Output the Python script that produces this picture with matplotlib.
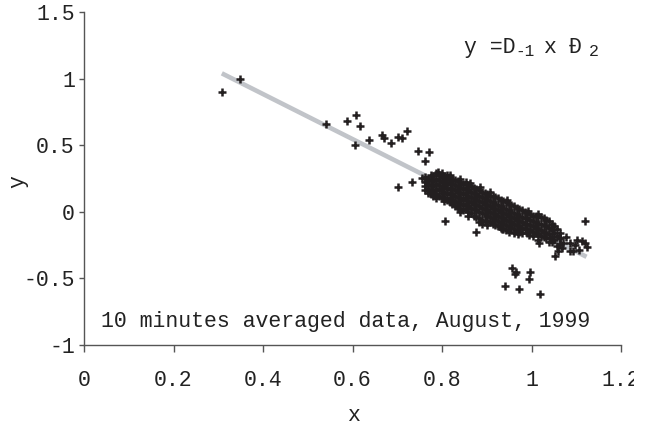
import matplotlib
matplotlib.use("Agg")
import matplotlib.pyplot as plt
import numpy as np
from matplotlib.transforms import Bbox

# scattered points away from the main cloud
outlier_x = [0.308, 0.349, 0.541, 0.587, 0.608, 0.617, 0.606, 0.637, 0.666, 0.670,
             0.685, 0.701, 0.711, 0.722, 0.746, 0.772, 0.763, 0.701, 0.734, 0.756,
             0.768, 0.807, 0.877, 1.120,
             0.956, 0.965, 0.963, 0.997, 0.994, 0.941, 0.971, 1.019]
outlier_y = [0.900, 0.995, 0.660, 0.685, 0.730, 0.645, 0.505, 0.538, 0.578, 0.553,
             0.515, 0.565, 0.553, 0.608, 0.460, 0.452, 0.383, 0.188, 0.220, 0.255,
             0.240, -0.068, -0.152, -0.070,
             -0.420, -0.450, -0.470, -0.450, -0.505, -0.560, -0.580, -0.615]

# stray points along the rim of the cloud
edge_x = [0.790, 0.818, 0.840, 0.863, 0.885, 0.907, 0.945, 0.992, 1.015,
          0.840, 0.858, 0.889, 0.933, 0.970, 0.994, 1.017, 1.041]
edge_y = [0.300, 0.275, 0.245, 0.215, 0.185, 0.150, 0.090, 0.005, -0.020,
          -0.005, -0.030, -0.090, -0.130, -0.170, -0.175, -0.235, -0.200]

# right hand tail of the cloud
tail_x = [1.052, 1.060, 1.071, 1.086, 1.086, 1.093, 1.102, 1.107, 1.120, 1.123, 1.040, 1.064,
          1.069, 1.078, 1.097, 1.113]
tail_y = [-0.335, -0.298, -0.235, -0.235, -0.298, -0.298, -0.215, -0.285, -0.235, -0.265, -0.230, -0.200,
          -0.270, -0.190, -0.250, -0.220]

# dense cloud, read column by column
cloud_x = [0.762, 0.768, 0.775, 0.781, 0.787, 0.793, 0.799, 0.805, 0.811, 0.817,
           0.823, 0.829, 0.835, 0.841, 0.847, 0.853, 0.859, 0.865, 0.871, 0.877,
           0.883, 0.889, 0.895, 0.901, 0.907, 0.913, 0.919, 0.925, 0.931, 0.937,
           0.943, 0.949, 0.955, 0.961, 0.967, 0.973, 0.979, 0.985, 0.991, 0.997,
           1.003, 1.009, 1.015, 1.021, 1.027, 1.033, 1.039, 1.045, 1.051, 1.057, 1.063]
cloud_y = [
    [0.26, 0.22, 0.19, 0.16],
    [0.25, 0.21, 0.17, 0.14],
    [0.28, 0.24, 0.20, 0.16, 0.13],
    [0.27, 0.23, 0.19, 0.15, 0.12],
    [0.29, 0.25, 0.21, 0.17, 0.13, 0.10],
    [0.28, 0.24, 0.20, 0.16, 0.12],
    [0.29, 0.26, 0.22, 0.18, 0.14, 0.10],
    [0.27, 0.23, 0.19, 0.15, 0.11, 0.08],
    [0.28, 0.25, 0.21, 0.17, 0.13, 0.09],
    [0.26, 0.22, 0.18, 0.14, 0.10, 0.07],
    [0.25, 0.21, 0.17, 0.13, 0.09, 0.06],
    [0.24, 0.20, 0.16, 0.12, 0.08, 0.04],
    [0.23, 0.19, 0.15, 0.11, 0.07, 0.03],
    [0.22, 0.18, 0.14, 0.10, 0.06, 0.02],
    [0.21, 0.17, 0.13, 0.09, 0.05, 0.01],
    [0.22, 0.18, 0.14, 0.10, 0.06, 0.02],
    [0.20, 0.16, 0.12, 0.08, 0.04, 0.00],
    [0.19, 0.15, 0.11, 0.07, 0.03, -0.01],
    [0.18, 0.14, 0.10, 0.06, 0.02, -0.03],
    [0.17, 0.13, 0.09, 0.05, 0.01, -0.04],
    [0.16, 0.12, 0.08, 0.04, 0.00, -0.05, -0.08],
    [0.15, 0.11, 0.07, 0.03, -0.01, -0.06],
    [0.14, 0.10, 0.06, 0.02, -0.02, -0.07],
    [0.13, 0.09, 0.05, 0.01, -0.03, -0.07, -0.10],
    [0.12, 0.08, 0.04, 0.00, -0.04, -0.08],
    [0.12, 0.07, 0.03, -0.01, -0.05, -0.09],
    [0.11, 0.06, 0.02, -0.02, -0.06, -0.10],
    [0.10, 0.05, 0.01, -0.03, -0.07, -0.11],
    [0.09, 0.04, 0.00, -0.04, -0.08, -0.12],
    [0.08, 0.03, -0.01, -0.05, -0.09, -0.13],
    [0.07, 0.02, -0.02, -0.06, -0.10, -0.14],
    [0.06, 0.01, -0.03, -0.07, -0.11, -0.15],
    [0.05, 0.00, -0.04, -0.08, -0.12],
    [0.04, -0.01, -0.05, -0.09, -0.13, -0.16],
    [0.03, -0.02, -0.06, -0.10, -0.14],
    [0.02, -0.03, -0.07, -0.11, -0.15],
    [0.01, -0.04, -0.08, -0.12, -0.16],
    [0.00, -0.05, -0.09, -0.13],
    [-0.01, -0.05, -0.09, -0.13, -0.16],
    [-0.02, -0.06, -0.10, -0.14],
    [-0.03, -0.07, -0.11, -0.15, -0.18],
    [-0.03, -0.08, -0.12, -0.16],
    [-0.04, -0.09, -0.13, -0.17, -0.21],
    [-0.04, -0.09, -0.14, -0.18],
    [-0.05, -0.10, -0.15, -0.19],
    [-0.06, -0.11, -0.16, -0.20],
    [-0.07, -0.12, -0.17],
    [-0.09, -0.14, -0.19, -0.23],
    [-0.11, -0.16, -0.21],
    [-0.13, -0.18, -0.26],
    [-0.16, -0.20, -0.24],
]

fit_coef = [-1.69, 1.56]   # trend line slope, intercept

xticks = [0, 0.2, 0.4, 0.6, 0.8, 1, 1.2]
yticks = [-1, -0.5, 0, 0.5, 1, 1.5]

plt.rcParams["font.family"] = ["Liberation Mono", "DejaVu Sans Mono"]
plt.rcParams["axes.unicode_minus"] = False
ink = "#222222"
fs = 15.5

xs = list(outlier_x) + list(edge_x) + list(tail_x)
ys = list(outlier_y) + list(edge_y) + list(tail_y)
for cx, col in zip(cloud_x, cloud_y):
    xs += [cx] * len(col)
    ys += col
xs = np.array(xs)
ys = np.array(ys)

W, H = 652, 426
fig = plt.figure(figsize=(W / 100, H / 100), dpi=100)
ax = fig.add_axes([84 / W, 81 / H, 537 / W, 333 / H])

line_x = np.array([xs.min(), xs.max()])
ax.plot(line_x, np.polyval(fit_coef, line_x), color="#c1c4c9", lw=3.3,
        solid_capstyle="butt", zorder=1)
ax.plot(xs, ys, ls="none", marker="+", ms=5.2, mew=1.8, color="#231f20", zorder=2)

ax.set_xlim(0, 1.2)
ax.set_ylim(-1, 1.5)
ax.set_xticks(xticks)
ax.set_yticks(yticks)
ax.set_xticklabels(["%g" % v for v in xticks])
ax.set_yticklabels(["%g" % v for v in yticks])
for s in ["top", "right"]:
    ax.spines[s].set_visible(False)
for s in ["left", "bottom"]:
    ax.spines[s].set_color("#555555")
    ax.spines[s].set_linewidth(1.0)
ax.tick_params(axis="x", length=5, width=1, pad=13, color="#555555",
               labelcolor=ink, labelsize=fs)
ax.tick_params(axis="y", length=3.6, width=1, pad=3, color="#555555",
               labelcolor=ink, labelsize=fs)

ax.set_xlabel("x", fontsize=fs, color=ink, va="baseline")
ax.set_ylabel("y", fontsize=fs, color=ink)
ax.xaxis.set_label_coords(0.502, (345 - 421) / 333)
ax.yaxis.set_label_coords(-0.104, 0.49)

ax.text((101 - 84) / 537, (345 - 327) / 333, "10 minutes averaged data, August, 1999",
        transform=ax.transAxes, fontsize=fs, color=ink, va="baseline", ha="left")

# fitted equation as it appears in the source (symbol font mangled)
base = (H - 53) / H
fig.text(464 / W, base, "y =D", fontsize=fs, color=ink, va="baseline")
fig.text(515 / W, base - 3 / H, "\u20101", fontsize=11.5, color=ink, va="baseline")
fig.text(543 / W, base, "x", fontsize=fs, color=ink, va="baseline")
fig.text(569 / W, base, "\u0110", fontsize=fs, color=ink, va="baseline")
fig.text(589 / W, base - 3 / H, "2", fontsize=12, color=ink, va="baseline")

# last x tick label is cut off at the right edge in the original
fig.canvas.draw()
clip = Bbox.from_extents(0, 0, 634, H)
for lbl in ax.get_xticklabels():
    lbl.set_clip_box(clip)
    lbl.set_clip_on(True)

fig.savefig("out.png", dpi=100)
